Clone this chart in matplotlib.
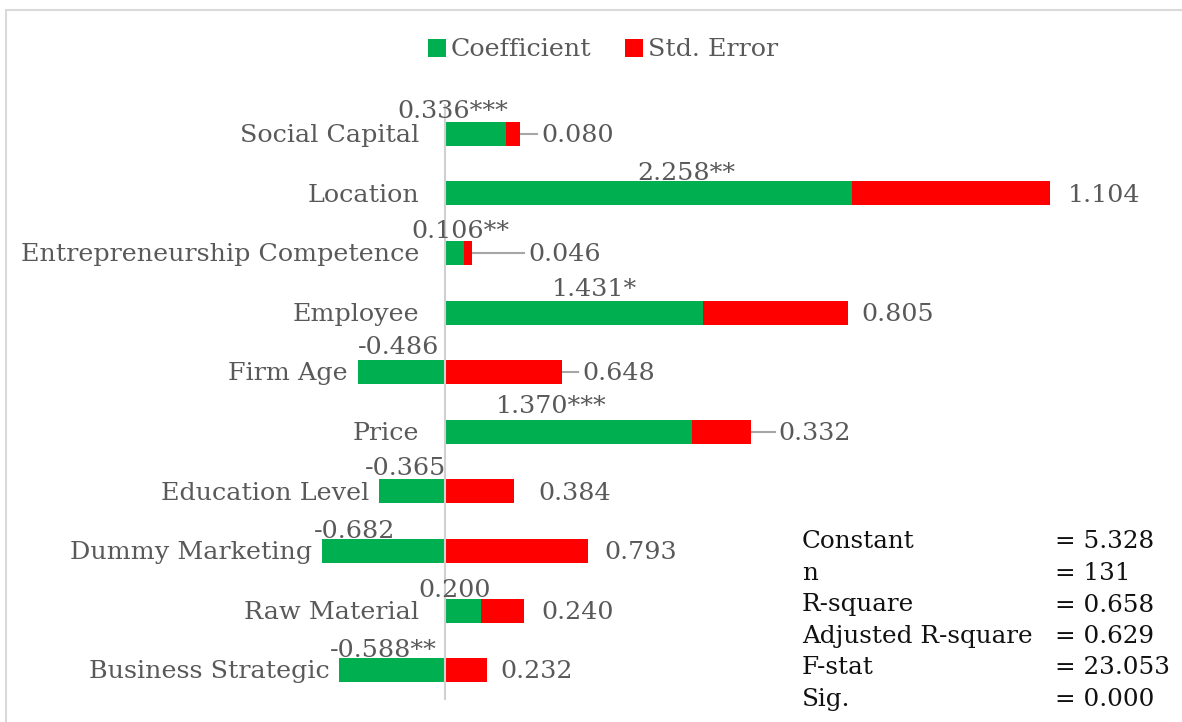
import matplotlib
matplotlib.use("Agg")
import matplotlib.pyplot as plt
from matplotlib.patches import Rectangle, Patch

# ---------------- data ----------------
variables = ["Social Capital", "Location", "Entrepreneurship Competence", "Employee",
             "Firm Age", "Price", "Education Level", "Dummy Marketing",
             "Raw Material", "Business Strategic"]
coefficients = [0.336, 2.258, 0.106, 1.431, -0.486, 1.370, -0.365, -0.682, 0.200, -0.588]
std_errors = [0.080, 1.104, 0.046, 0.805, 0.648, 0.332, 0.384, 0.793, 0.240, 0.232]
significance = ["***", "**", "**", "*", "", "***", "", "", "", "**"]
stat_names = ["Constant", "n", "R-square", "Adjusted R-square", "F-stat", "Sig."]
stat_values = ["= 5.328", "= 131", "= 0.658", "= 0.629", "= 23.053", "= 0.000"]

# ---------------- layout / style ----------------
coef_label_x = [0.044, 1.339, 0.083, 0.828, -0.256, 0.589, -0.222, -0.500, 0.056, -0.344]
coef_label_dy = [-0.27, -0.22, -0.25, -0.28, -0.30, -0.32, -0.27, -0.22, -0.22, -0.22]
se_label_x = [0.533, 3.461, 0.461, 2.311, 0.761, 1.850, 0.517, 0.883, 0.533, 0.306]
leader = [True, False, True, False, True, True, False, False, False, False]

GREEN = "#00B050"
RED = "#FF0000"
TXT = "#595959"
FONT = ["DejaVu Serif"]
FS = 18.3

plt.rcParams["font.family"] = FONT

fig = plt.figure(figsize=(11.82, 7.22), dpi=100)
W, H = 1182, 722

# outer border
fig.patches.append(Rectangle((6 / W, -0.1), 1.2, (722 - 10) / H + 0.1,
                             transform=fig.transFigure, fill=False,
                             edgecolor="#d9d9d9", linewidth=1.5))

ax = fig.add_axes([319 / W, 22 / H, 839 / W, 596 / H])
ax.set_xlim(-0.70, 3.96)
ax.set_ylim(9.5, -0.5)
for s in ax.spines.values():
    s.set_visible(False)
ax.set_xticks([])
ax.set_yticks([])
ax.axvline(0, color="#d0d0d0", linewidth=1.5, zorder=3)

bh = 0.40
for i, (c, se) in enumerate(zip(coefficients, std_errors)):
    ax.barh(i, c, height=bh, color=GREEN, zorder=2)
    start = c if c > 0 else 0
    ax.barh(i, se, left=start, height=bh, color=RED, zorder=2)
    end = start + se
    # category label
    ax.text(-0.145 if c > 0 else c - 0.055, i + 0.03, variables[i], ha="right",
            va="center", fontsize=FS, color=TXT)
    # coefficient label
    ax.text(coef_label_x[i], i + coef_label_dy[i], f"{c:.3f}{significance[i]}",
            ha="center", va="baseline", fontsize=FS, color=TXT, zorder=4)
    # std error label
    ax.text(se_label_x[i], i + 0.03, f"{se:.3f}", ha="left", va="center",
            fontsize=FS, color=TXT)
    if leader[i]:
        ax.plot([end, se_label_x[i] - 0.02], [i, i], color="#a6a6a6", linewidth=1.5, zorder=1)

# legend
handles = [Patch(facecolor=GREEN, label="Coefficient"),
           Patch(facecolor=RED, label="Std. Error")]
fig.legend(handles=handles, loc="center", bbox_to_anchor=(603 / W, 1 - 50 / H),
           ncol=2, frameon=False, fontsize=FS, handlelength=0.7, handleheight=0.7,
           handletextpad=0.2, columnspacing=1.3, labelcolor=TXT)

# stats box
for k, (nm, val) in enumerate(zip(stat_names, stat_values)):
    yy = 1 - (542 + k * 31.5) / H
    fig.text(802 / W, yy, nm, ha="left", va="center", fontsize=17.7, color="#111111")
    fig.text(1055 / W, yy, val, ha="left", va="center", fontsize=17.7, color="#111111")

fig.savefig("out.png", dpi=100)
